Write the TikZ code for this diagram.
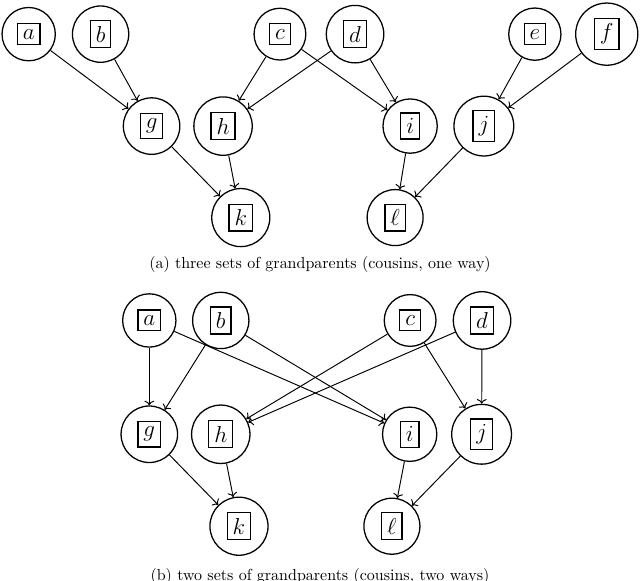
\documentclass[tikz,border=0pt]{standalone}
\usepackage{tikz}
\usetikzlibrary{arrows.meta}
\usepackage{amsmath, amssymb}
\setlength{\fboxsep}{3pt}
\setlength{\fboxrule}{0.8pt}

\begin{document}
\begin{tikzpicture}[person/.style={draw,thick,circle,inner sep=4.6pt,font=\Large},
    kin/.style={->,semithick}]
      \useasboundingbox (0,0) rectangle (14.06,-12.76);
      % (a) three sets of grandparents
      \node[person] (a1) at (0.63,-0.75) {$\boxed{a}$};
      \node[person] (b1) at (2.21,-0.75) {$\boxed{b}$};
      \node[person] (c1) at (6.15,-0.75) {$\boxed{c}$};
      \node[person] (d1) at (7.80,-0.75) {$\boxed{d}$};
      \node[person] (e1) at (11.75,-0.75) {$\boxed{e}$};
      \node[person] (f1) at (13.33,-0.75) {$\boxed{f}$};
      \node[person] (g1) at (3.33,-2.77) {$\boxed{g}$};
      \node[person] (h1) at (4.90,-2.77) {$\boxed{h}$};
      \node[person] (i1) at (9.01,-2.77) {$\boxed{i}$};
      \node[person] (j1) at (10.63,-2.77) {$\boxed{j}$};
      \node[person] (k1) at (5.29,-4.78) {$\boxed{k}$};
      \node[person] (l1) at (8.68,-4.78) {$\boxed{\ell}$};
      \draw[kin] (a1) -- (g1);
      \draw[kin] (b1) -- (g1);
      \draw[kin] (c1) -- (h1);
      \draw[kin] (d1) -- (h1);
      \draw[kin] (c1) -- (i1);
      \draw[kin] (d1) -- (i1);
      \draw[kin] (e1) -- (j1);
      \draw[kin] (f1) -- (j1);
      \draw[kin] (g1) -- (k1);
      \draw[kin] (h1) -- (k1);
      \draw[kin] (i1) -- (l1);
      \draw[kin] (j1) -- (l1);
      \node[anchor=base] (cap1) at (7.03,-5.89) {(a) three sets of grandparents (cousins, one way)};
      % (b) two sets of grandparents
      \node[person] (a2) at (3.28,-7.04) {$\boxed{a}$};
      \node[person] (b2) at (4.85,-7.04) {$\boxed{b}$};
      \node[person] (c2) at (9.01,-7.04) {$\boxed{c}$};
      \node[person] (d2) at (10.59,-7.04) {$\boxed{d}$};
      \node[person] (g2) at (3.28,-9.54) {$\boxed{g}$};
      \node[person] (h2) at (4.85,-9.54) {$\boxed{h}$};
      \node[person] (i2) at (9.00,-9.54) {$\boxed{i}$};
      \node[person] (j2) at (10.58,-9.54) {$\boxed{j}$};
      \node[person] (k2) at (5.25,-11.56) {$\boxed{k}$};
      \node[person] (l2) at (8.61,-11.56) {$\boxed{\ell}$};
      \draw[kin] (a2) -- (g2);
      \draw[kin] (b2) -- (g2);
      \draw[kin] (a2) -- (i2);
      \draw[kin] (b2) -- (i2);
      \draw[kin] (c2) -- (h2);
      \draw[kin] (d2) -- (h2);
      \draw[kin] (c2) -- (j2);
      \draw[kin] (d2) -- (j2);
      \draw[kin] (g2) -- (k2);
      \draw[kin] (h2) -- (k2);
      \draw[kin] (i2) -- (l2);
      \draw[kin] (j2) -- (l2);
      \node[anchor=base] (cap2) at (7.03,-12.76) {(b) two sets of grandparents (cousins, two ways)};
    \end{tikzpicture}
\end{document}
